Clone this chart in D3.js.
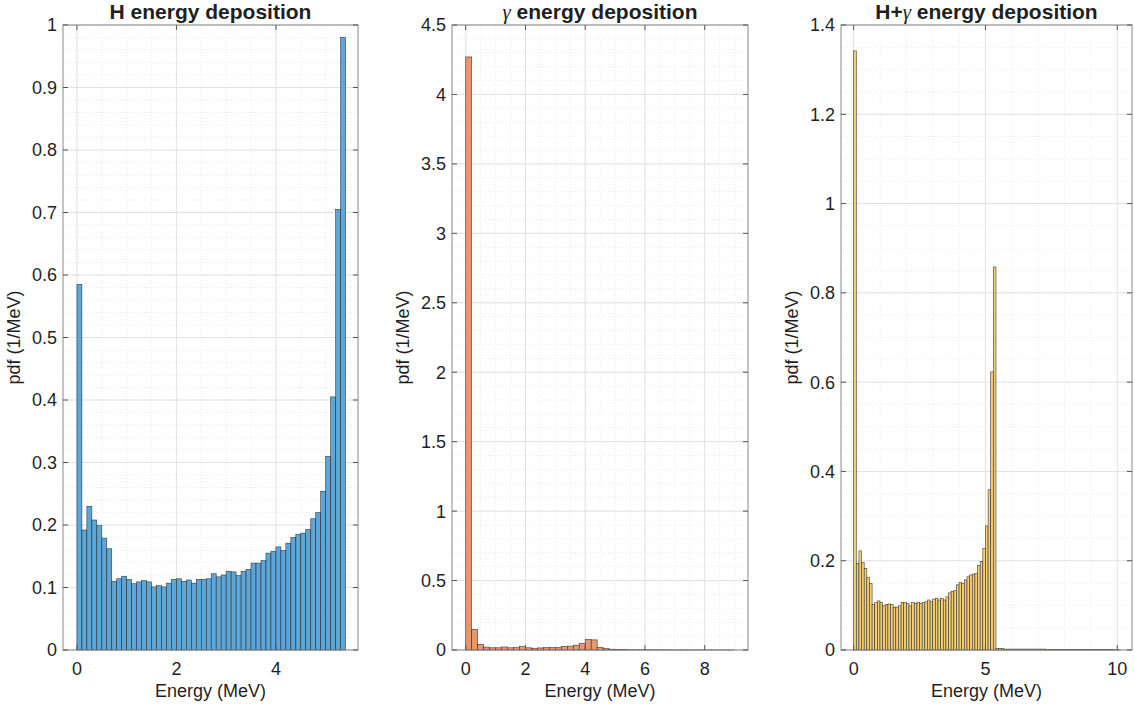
<!DOCTYPE html>
<html>
<head>
<meta charset="utf-8">
<script src="https://cdn.jsdelivr.net/npm/d3@7/dist/d3.min.js"></script>
<style>
  html, body { margin: 0; padding: 0; background: #fff; }
  svg { display: block; }
  text { font-family: "Liberation Sans", Arial, Helvetica, sans-serif; fill: #1f1f1f; }
</style>
</head>
<body>
<svg id="chart" width="1135" height="709"></svg>
<script>
// ---------------- DATA ----------------
// H energy deposition: bins of 0.1 MeV starting at 0
const hBinWidth = 0.1;
const hValues = [
  0.585, 0.192, 0.230, 0.208, 0.199, 0.179, 0.162, 0.110, 0.114, 0.118,
  0.113, 0.106, 0.109, 0.111, 0.109, 0.101, 0.103, 0.101, 0.107, 0.113,
  0.114, 0.110, 0.112, 0.107, 0.113, 0.113, 0.114, 0.122, 0.117, 0.120,
  0.126, 0.125, 0.119, 0.126, 0.129, 0.139, 0.139, 0.143, 0.155, 0.158,
  0.165, 0.159, 0.171, 0.180, 0.185, 0.187, 0.193, 0.210, 0.220, 0.254,
  0.310, 0.405, 0.705, 0.980
];
// gamma energy deposition: bins of 0.2 MeV starting at 0
const gBinWidth = 0.2;
const gValues = [
  4.27, 0.149, 0.041, 0.021, 0.016, 0.016, 0.022, 0.016, 0.017, 0.024,
  0.016, 0.013, 0.015, 0.017, 0.017, 0.017, 0.026, 0.028, 0.035, 0.049,
  0.076, 0.073, 0.019, 0.011, 0.006, 0.004, 0.003, 0.002, 0.002, 0.002,
  0.002, 0.0015, 0.0015, 0.0015, 0.001, 0.001, 0.001, 0.001, 0.001, 0.001,
  0.0008, 0.0008, 0.0006, 0.0005, 0.0004
];
// H+gamma energy deposition: bins of 0.1 MeV starting at 0
const hgBinWidth = 0.1;
const hgValues = [
  1.342, 0.194, 0.222, 0.196, 0.183, 0.163, 0.149, 0.102, 0.106, 0.110,
  0.107, 0.099, 0.102, 0.103, 0.102, 0.096, 0.096, 0.099, 0.107, 0.106,
  0.104, 0.099, 0.106, 0.104, 0.107, 0.104, 0.106, 0.108, 0.112, 0.108,
  0.114, 0.116, 0.112, 0.116, 0.112, 0.119, 0.128, 0.131, 0.133, 0.146,
  0.151, 0.149, 0.157, 0.164, 0.168, 0.170, 0.172, 0.189, 0.198, 0.228,
  0.278, 0.359, 0.623, 0.858,
  0.003, 0.003, 0.003, 0.002, 0.002, 0.002, 0.002, 0.002, 0.002, 0.002,
  0.002, 0.002, 0.002, 0.002, 0.002, 0.002, 0.002, 0.002, 0.002, 0.0015,
  0.0015, 0.0015, 0.0015, 0.0015, 0.0015, 0.0015, 0.0015, 0.001, 0.001, 0.001,
  0.001, 0.001, 0.001, 0.001, 0.001, 0.001, 0.001, 0.001, 0.001, 0.001,
  0.001, 0.001, 0.0008, 0.0008, 0.0008, 0.0006, 0.0006
];

const hXTicks = [0, 2, 4];
const hYTicks = [0, 0.1, 0.2, 0.3, 0.4, 0.5, 0.6, 0.7, 0.8, 0.9, 1];
const gXTicks = [0, 2, 4, 6, 8];
const gYTicks = [0, 0.5, 1, 1.5, 2, 2.5, 3, 3.5, 4, 4.5];
const hgXTicks = [0, 5, 10];
const hgYTicks = [0, 0.2, 0.4, 0.6, 0.8, 1, 1.2, 1.4];

const titles = ["H energy deposition", "\u03b3 energy deposition", "H+\u03b3 energy deposition"];
const xLabel = "Energy (MeV)";
const yLabel = "pdf (1/MeV)";

// ---------------- LAYOUT ----------------
const panels = [
  { values: hValues, bw: hBinWidth, xTicks: hXTicks, yTicks: hYTicks,
    xDomain: [-0.28, 5.65], yDomain: [0, 1], xMinor: 0.5, yMinor: 0.02,
    left: 63, right: 358, fill: "rgb(92,166,216)", title: 0 },
  { values: gValues, bw: gBinWidth, xTicks: gXTicks, yTicks: gYTicks,
    xDomain: [-0.46, 9.45], yDomain: [0, 4.5], xMinor: 0.5, yMinor: 0.1,
    left: 452, right: 748, fill: "rgb(232,150,112)", title: 1 },
  { values: hgValues, bw: hgBinWidth, xTicks: hgXTicks, yTicks: hgYTicks,
    xDomain: [-0.48, 10.56], yDomain: [0, 1.4], xMinor: 1, yMinor: 0.05,
    left: 841, right: 1132, fill: "rgb(243,206,116)", title: 2 }
];
const axTop = 25, axBottom = 650;

const svg = d3.select("#chart");

function fmt(v) { return String(+v.toFixed(3)); }

panels.forEach(p => {
  const x = d3.scaleLinear().domain(p.xDomain).range([p.left, p.right]);
  const y = d3.scaleLinear().domain(p.yDomain).range([axBottom, axTop]);
  const g = svg.append("g");

  // minor grid
  const xm = d3.range(0, p.xDomain[1] + 1e-9, p.xMinor).filter(v => v >= p.xDomain[0]);
  const ym = d3.range(0, p.yDomain[1] + 1e-9, p.yMinor);
  g.selectAll(".xm").data(xm).join("line")
    .attr("x1", d => x(d)).attr("x2", d => x(d)).attr("y1", axTop).attr("y2", axBottom)
    .attr("stroke", "#e4e4e4").attr("stroke-width", 0.8).attr("stroke-dasharray", "1,2");
  g.selectAll(".ym").data(ym).join("line")
    .attr("y1", d => y(d)).attr("y2", d => y(d)).attr("x1", p.left).attr("x2", p.right)
    .attr("stroke", "#e4e4e4").attr("stroke-width", 0.8).attr("stroke-dasharray", "1,2");
  // major grid
  g.selectAll(".xg").data(p.xTicks).join("line")
    .attr("x1", d => x(d)).attr("x2", d => x(d)).attr("y1", axTop).attr("y2", axBottom)
    .attr("stroke", "#e2e2e2").attr("stroke-width", 1);
  g.selectAll(".yg").data(p.yTicks).join("line")
    .attr("y1", d => y(d)).attr("y2", d => y(d)).attr("x1", p.left).attr("x2", p.right)
    .attr("stroke", "#e2e2e2").attr("stroke-width", 1);

  // bars
  g.selectAll(".bar").data(p.values).join("rect")
    .attr("x", (d, i) => x(i * p.bw))
    .attr("width", (d, i) => x((i + 1) * p.bw) - x(i * p.bw))
    .attr("y", d => y(d))
    .attr("height", d => y(0) - y(d))
    .attr("fill", p.fill)
    .attr("stroke", "#222").attr("stroke-opacity", 0.85).attr("stroke-width", 0.6);

  // box
  g.append("rect").attr("x", p.left).attr("y", axTop)
    .attr("width", p.right - p.left).attr("height", axBottom - axTop)
    .attr("fill", "none").attr("stroke", "#8a8a8a").attr("stroke-width", 1);

  // ticks (inward, both sides)
  const tl = 5;
  p.xTicks.forEach(t => {
    g.append("line").attr("x1", x(t)).attr("x2", x(t)).attr("y1", axBottom).attr("y2", axBottom - tl)
      .attr("stroke", "#555").attr("stroke-width", 1);
    g.append("line").attr("x1", x(t)).attr("x2", x(t)).attr("y1", axTop).attr("y2", axTop + tl)
      .attr("stroke", "#555").attr("stroke-width", 1);
  });
  p.yTicks.forEach(t => {
    g.append("line").attr("x1", p.left).attr("x2", p.left + tl).attr("y1", y(t)).attr("y2", y(t))
      .attr("stroke", "#555").attr("stroke-width", 1);
    g.append("line").attr("x1", p.right).attr("x2", p.right - tl).attr("y1", y(t)).attr("y2", y(t))
      .attr("stroke", "#555").attr("stroke-width", 1);
  });

  // tick labels
  g.selectAll(".xl").data(p.xTicks).join("text")
    .attr("x", d => x(d)).attr("y", 675)
    .attr("text-anchor", "middle").attr("font-size", "18px")
    .text(d => fmt(d));
  g.selectAll(".yl").data(p.yTicks).join("text")
    .attr("x", p.left - 6).attr("y", d => y(d)).attr("dy", "0.36em")
    .attr("text-anchor", "end").attr("font-size", "18px")
    .text(d => fmt(d));

  // axis labels
  g.append("text").attr("x", (p.left + p.right) / 2).attr("y", 697)
    .attr("text-anchor", "middle").attr("font-size", "18px").text(xLabel);
  const ylx = p.left - 43;
  g.append("text").attr("transform", `translate(${ylx},${(axTop + axBottom) / 2}) rotate(-90)`)
    .attr("text-anchor", "middle").attr("font-size", "18px").text(yLabel);

  // title
  const tt = g.append("text").attr("x", (p.left + p.right) / 2).attr("y", 19)
    .attr("text-anchor", "middle").attr("font-size", "21px").attr("font-weight", "bold");
  const parts = titles[p.title].split("\u03b3");
  parts.forEach((s, i) => {
    if (i > 0) {
      tt.append("tspan").attr("font-family", "'Liberation Serif', 'DejaVu Serif', serif")
        .attr("font-style", "italic").attr("font-weight", "normal").text("\u03b3");
    }
    if (s.length) tt.append("tspan").text(s);
  });
});
</script>
</body>
</html>
